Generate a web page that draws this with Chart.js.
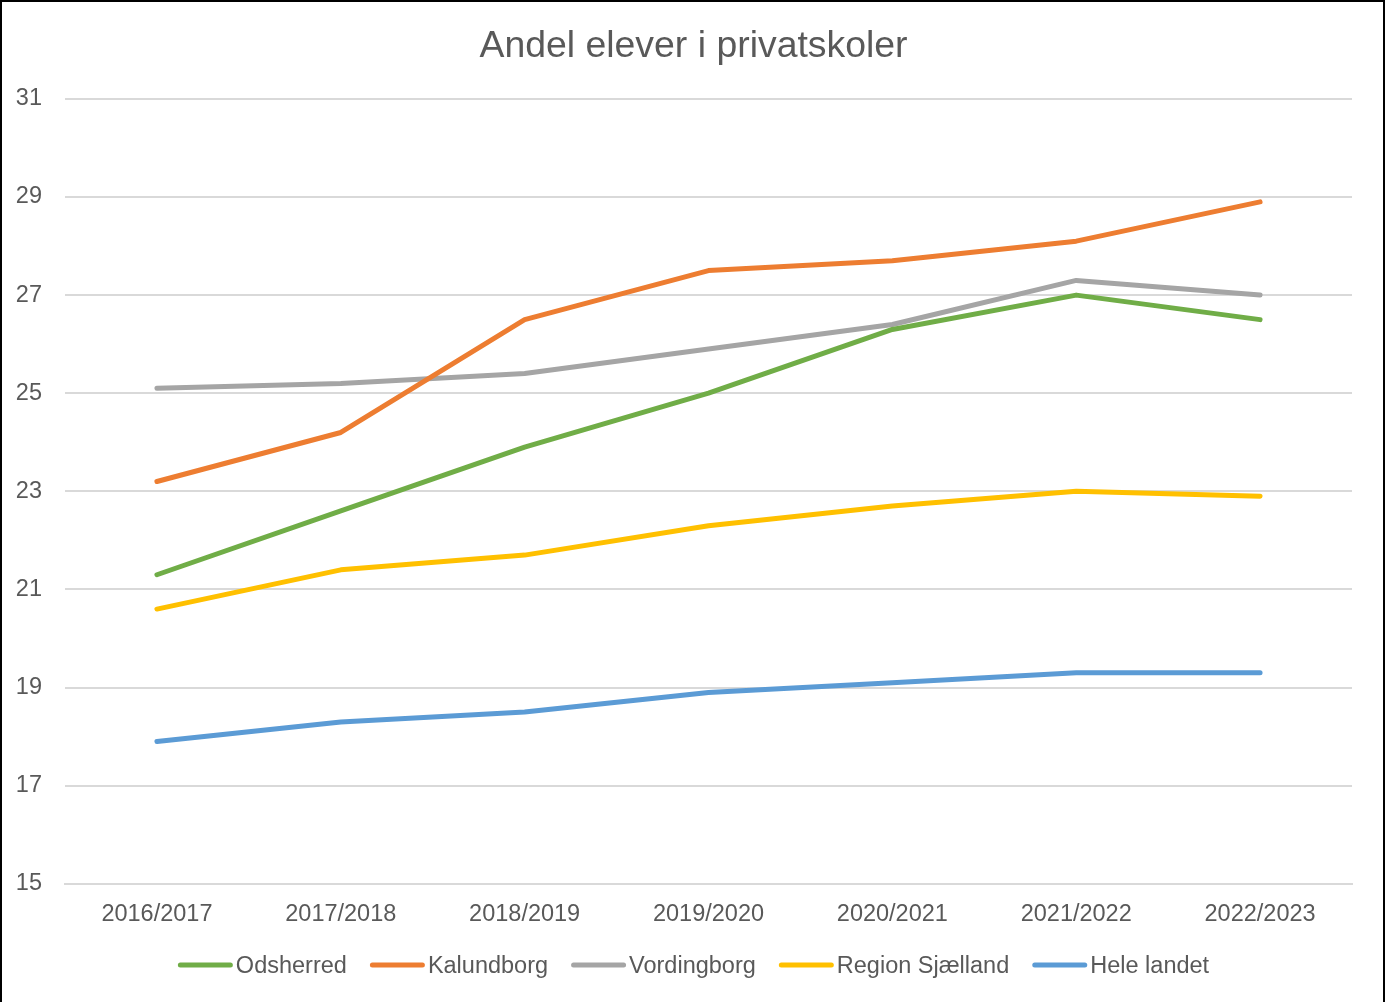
<!DOCTYPE html>
<html>
<head>
<meta charset="utf-8">
<script src="https://cdn.jsdelivr.net/npm/chart.js@4"></script>
<style>
  html, body { margin: 0; padding: 0; background: #fff; overflow: hidden; }
  #wrap { position: absolute; left: 0; top: 0; width: 1387px; height: 1002px; }
  #frame { position: absolute; left: 0; top: 0; width: 1381px; height: 1012px; border: 2px solid #000; pointer-events: none; }
</style>
</head>
<body>
<div id="wrap">
  <canvas id="c" width="1387" height="1002"></canvas>
</div>
<div id="frame"></div>
<script>
const categories = ["2016/2017", "2017/2018", "2018/2019", "2019/2020", "2020/2021", "2021/2022", "2022/2023"];
const odsherred = [21.3, 22.6, 23.9, 25.0, 26.3, 27.0, 26.5];
const kalundborg = [23.2, 24.2, 26.5, 27.5, 27.7, 28.1, 28.9];
const vordingborg = [25.1, 25.2, 25.4, 25.9, 26.4, 27.3, 27.0];
const regionSjaelland = [20.6, 21.4, 21.7, 22.3, 22.7, 23.0, 22.9];
const heleLandet = [17.9, 18.3, 18.5, 18.9, 19.1, 19.3, 19.3];
const seriesNames = ["Odsherred", "Kalundborg", "Vordingborg", "Region Sjælland", "Hele landet"];
const seriesColors = ["#70AD47", "#ED7D31", "#A5A5A5", "#FFC000", "#5B9BD5"];
const chartTitle = "Andel elever i privatskoler";

const FONT_FAMILY = "'Liberation Sans', Arial, sans-serif";
const TEXT_COLOR = "#595959";
Chart.defaults.font.family = FONT_FAMILY;
Chart.defaults.color = TEXT_COLOR;

const seriesValues = [odsherred, kalundborg, vordingborg, regionSjaelland, heleLandet];
const datasets = seriesValues.map((vals, i) => ({
  label: seriesNames[i],
  data: vals,
  borderColor: seriesColors[i],
  backgroundColor: seriesColors[i],
  borderWidth: 5,
  borderCapStyle: 'round',
  borderJoinStyle: 'round',
  pointRadius: 0,
  pointHoverRadius: 0,
  tension: 0,
  fill: false
}));

// Legend drawn in Excel style: line sample, small gap, text
const lineLegend = {
  id: 'lineLegend',
  afterDraw(chart) {
    const ctx = chart.ctx;
    const fontSize = 23.5;
    const sampleW = 55, lw = 5, gapText = 3, gapItem = 23;
    const yMid = 967;
    ctx.save();
    ctx.font = fontSize + "px " + FONT_FAMILY;
    const items = chart.data.datasets.map(ds => ({
      text: ds.label, color: ds.borderColor, w: ctx.measureText(ds.label).width
    }));
    const total = items.reduce((s, it) => s + sampleW + gapText + it.w, 0) + gapItem * (items.length - 1);
    let x = chart.width / 2 - total / 2;
    ctx.textBaseline = 'middle';
    ctx.textAlign = 'left';
    items.forEach(it => {
      ctx.beginPath();
      ctx.strokeStyle = it.color;
      ctx.lineWidth = lw;
      ctx.lineCap = 'round';
      ctx.moveTo(x + lw / 2, yMid - 2);
      ctx.lineTo(x + sampleW - lw / 2, yMid - 2);
      ctx.stroke();
      ctx.fillStyle = TEXT_COLOR;
      ctx.fillText(it.text, x + sampleW + gapText, yMid);
      x += sampleW + gapText + it.w + gapItem;
    });
    ctx.restore();
  }
};

new Chart(document.getElementById('c'), {
  type: 'line',
  data: { labels: categories, datasets },
  plugins: [lineLegend],
  options: {
    responsive: false,
    devicePixelRatio: 1,
    animation: false,
    layout: { padding: { left: 0, right: 0, top: 0, bottom: 56 } },
    plugins: {
      tooltip: { enabled: false },
      legend: { display: false },
      title: {
        display: true,
        text: chartTitle,
        color: TEXT_COLOR,
        font: { size: 37.4, weight: 'normal', lineHeight: 1.2 },
        padding: { top: 24, bottom: 30 }
      }
    },
    scales: {
      x: {
        offset: true,
        grid: { display: false, drawTicks: false },
        border: { display: true, color: "#D9D9D9", width: 2 },
        ticks: { color: TEXT_COLOR, font: { size: 23.5 }, padding: 17, maxRotation: 0, autoSkip: false }
      },
      y: {
        min: 15,
        max: 31,
        ticks: { stepSize: 2, color: TEXT_COLOR, font: { size: 23.5 }, padding: 23 },
        grid: { color: "#D9D9D9", lineWidth: 2, drawTicks: false },
        border: { display: false },
        afterFit(axis) { axis.width = 65; }
      },
      rightSpace: {
        type: 'linear',
        position: 'right',
        min: 0,
        max: 1,
        grid: { display: false, drawTicks: false },
        border: { display: false },
        ticks: { display: false },
        afterFit(axis) { axis.width = 35; }
      }
    }
  }
});
</script>
</body>
</html>
